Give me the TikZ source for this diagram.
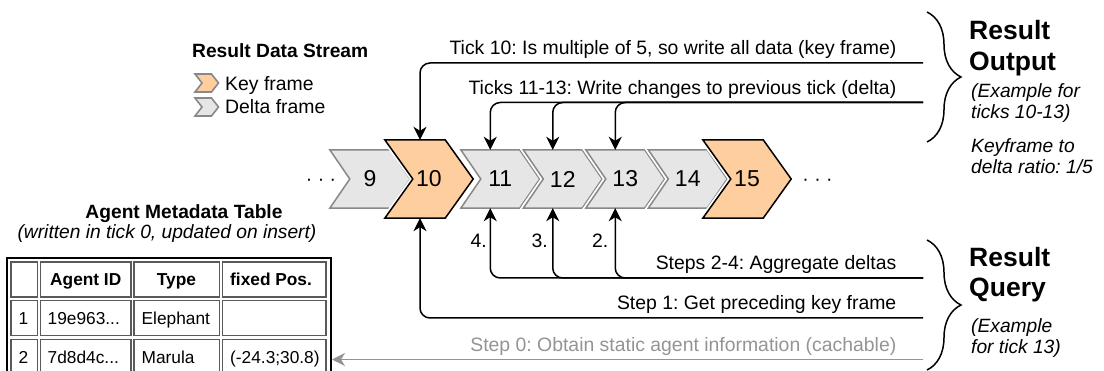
\documentclass[tikz,border=0pt]{standalone}
\usepackage{fontspec}
\setmainfont{Liberation Sans}
\frenchspacing
\usetikzlibrary{arrows.meta,decorations.pathreplacing,calc}
\definecolor{keyfill}{HTML}{FFCE9F}
\definecolor{deltafill}{HTML}{E6E6E6}
\definecolor{deltaline}{HTML}{888888}
\definecolor{softgray}{HTML}{949494}
\definecolor{cellline}{HTML}{5A5A5A}
\pgfdeclarelayer{chevrons}
\pgfsetlayers{chevrons,main}
\begin{document}
\begin{tikzpicture}[x=1pt,y=-1pt,
  every node/.style={inner sep=0pt},
  lbl/.style={font=\fontsize{19.4}{22}\selectfont},
  head/.style={font=\fontsize{19.2}{22}\selectfont\bfseries},
  big/.style={font=\fontsize{26.5}{30}\selectfont\bfseries},
  note/.style={font=\fontsize{19.2}{22}\selectfont\itshape},
  cell/.style={font=\fontsize{17.3}{20}\selectfont},
  cellhead/.style={font=\fontsize{17.3}{20}\selectfont\bfseries},
  dtick/.style={minimum width=58.5pt,minimum height=58pt,font=\fontsize{23}{26}\selectfont},
  ktick/.style={minimum width=60pt,minimum height=78pt,font=\fontsize{23}{26}\selectfont},
  deltachev/.style={fill=deltafill,draw=deltaline,line width=1.5pt,line join=miter,
    preaction={draw=white,line width=5pt}},
  keychev/.style={fill=keyfill,draw=black,line width=1.5pt,line join=miter,
    preaction={draw=white,line width=5pt}},
  flow/.style={line width=1.5pt,rounded corners=10pt,
    -{Stealth[length=13pt,width=13pt,inset=4pt]}},
  flowgray/.style={flow,draw=softgray},
  bracket/.style={line width=1.5pt,decorate,
    decoration={brace,amplitude=34pt,aspect=0.5}},
]
\useasboundingbox (0,0) rectangle (1104,371);

% ---------- legend ----------
\node[head,anchor=base west] (legtitle) at (192,58) {Result Data Stream};
\draw[fill=keyfill,draw=deltaline,line width=1.6pt,line join=miter]
  (195,74) -- (211.5,74) -- (218.5,83) -- (211.5,92) -- (195,92) -- (202,83) -- cycle;
\draw[fill=deltafill,draw=deltaline,line width=1.6pt,line join=miter]
  (195,98) -- (211.5,98) -- (218.5,107) -- (211.5,116) -- (195,116) -- (202,107) -- cycle;
\node[lbl,anchor=base west] (legkey) at (225,90.5) {Key frame};
\node[lbl,anchor=base west] (legdelta) at (225,114) {Delta frame};

% ---------- stream of ticks ----------
\node[lbl,anchor=base] (dotsl) at (321,186) {· · ·};
\node[lbl,anchor=base] (dotsr) at (817.5,186) {· · ·};
\node[dtick,minimum width=60pt] (t9) at (360,179) {\hspace*{20pt}9};
\node[ktick] (t10) at (415,179) {\hspace*{28pt}10};
\node[dtick] (t11) at (490.25,179) {\hspace*{20pt}11};
\node[dtick] (t12) at (552.75,179) {\hspace*{20pt}12};
\node[dtick] (t13) at (615.25,179) {\hspace*{20pt}13};
\node[dtick] (t14) at (677.75,179) {\hspace*{20pt}14};
\node[ktick] (t15) at (733,179) {\hspace*{28pt}15};
\begin{pgfonlayer}{chevrons}
  \foreach \n/\d/\sty in {9/20/deltachev,10/28/keychev,11/20/deltachev,
      12/20/deltachev,13/20/deltachev,14/20/deltachev,15/28/keychev}
    \draw[\sty] (t\n.north west) -- (t\n.north east) -- ([xshift=\d pt]t\n.east)
      -- (t\n.south east) -- (t\n.south west) -- ([xshift=\d pt]t\n.west) -- cycle;
\end{pgfonlayer}

% ---------- result output ----------
\coordinate (w10) at (923,63);
\coordinate (wd) at (923,102.5);
\node[lbl,anchor=base east] (tw10) at (896.5,55) {Tick 10: Is multiple of 5, so write all data (key frame)};
\node[lbl,anchor=base east] (twd) at (896.5,94.5) {Ticks 11-13: Write changes to previous tick (delta)};
\draw[flow] (w10) -| ([xshift=5pt]t10.north);
\foreach \n in {11,12,13}
  \draw[flow] (wd) -| (t\n.north);

% ---------- result query ----------
\coordinate (q24) at (923,278);
\coordinate (q1) at (923,318);
\coordinate (q0) at (923,359.5);
\node[lbl,anchor=base east] (tq24) at (896.5,270) {Steps 2-4: Aggregate deltas};
\node[lbl,anchor=base east] (tq1) at (896.5,310) {Step 1: Get preceding key frame};
\node[lbl,anchor=base east,text=softgray] (tq0) at (896.5,351.5) {Step 0: Obtain static agent information (cachable)};
\foreach \n in {11,12,13}
  \draw[flow] (q24) -| (t\n.south);
\draw[flow] (q1) -| ([xshift=5pt]t10.south);
\node[lbl,anchor=base east] (s4) at (487,248) {4.};
\node[lbl,anchor=base east] (s3) at (548,248) {3.};
\node[lbl,anchor=base east] (s2) at (608.5,248) {2.};

% ---------- braces and side notes ----------
\draw[bracket] (927,12) -- (927,142);
\draw[bracket] (927,240) -- (927,370);
\node[big,anchor=base west] (ro1) at (969,40) {Result};
\node[big,anchor=base west] (ro2) at (969,71) {Output};
\node[note,anchor=base west] (ro3) at (971,97.5) {(Example for};
\node[note,anchor=base west] (ro4) at (971,118.5) {ticks 10-13)};
\node[note,anchor=base west] (ro5) at (971,152.5) {Keyframe to};
\node[note,anchor=base west] (ro6) at (971,174) {delta ratio: 1/5};
\node[big,anchor=base west] (rq1) at (969,266.5) {Result};
\node[big,anchor=base west] (rq2) at (969,296.5) {Query};
\node[note,anchor=base west] (rq3) at (971,333) {(Example};
\node[note,anchor=base west] (rq4) at (971,354) {for tick 13)};

% ---------- agent metadata table ----------
\node[head,anchor=base] (tbltitle) at (184,218.5) {Agent Metadata Table};
\node[note,anchor=base] (tblnote) at (167,238.5) {(written in tick 0, updated on insert)};
\node[draw=black,line width=2pt,anchor=north west,minimum width=324pt,minimum height=130pt]
  (tbl) at (6,257.5) {};
\foreach \xa/\xb in {11/37.5,40.5/131,134/219.5,222.5/326}
  \foreach \ya/\yb in {262/297,300.5/335.5,339.5/385}
    \draw[cellline,line width=1.1pt] (\xa,\ya) rectangle (\xb,\yb);
\node[cellhead,anchor=base] (hid) at (85.75,286) {Agent ID};
\node[cellhead,anchor=base] (htype) at (176.5,286) {Type};
\node[cellhead,anchor=base west] (hpos) at (230,286) {fixed Pos.};
\node[cell,anchor=base] (r1n) at (23.5,324.5) {1};
\node[cell,anchor=base west] (r1id) at (47.5,324.5) {19e963...};
\node[cell,anchor=base west] (r1type) at (141.5,324.5) {Elephant};
\node[cell,anchor=base] (r2n) at (23.5,364) {2};
\node[cell,anchor=base west] (r2id) at (47.5,364) {7d8d4c...};
\node[cell,anchor=base west] (r2type) at (141.5,364) {Marula};
\node[cell,anchor=base west] (r2pos) at (230,364) {(-24.3;30.8)};
\draw[flowgray] (q0) -- (q0 -| tbl.east);
\end{tikzpicture}
\end{document}
